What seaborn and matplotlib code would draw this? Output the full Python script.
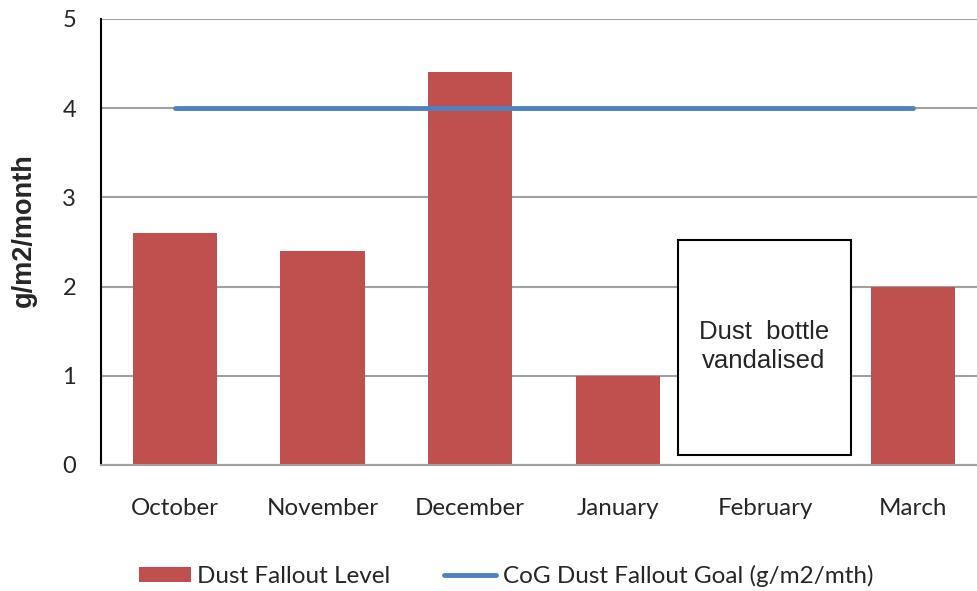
import numpy as np
import pandas as pd
import matplotlib
matplotlib.use('Agg')
from matplotlib import pyplot as plt
from matplotlib.patches import Rectangle, Patch
from matplotlib.lines import Line2D
import seaborn as sns

months = ['October', 'November', 'December', 'January', 'February', 'March']
dust_fallout = [2.6, 2.4, 4.4, 1.0, np.nan, 2.0]   # February bottle was vandalised
goal = [4, 4, 4, 4, 4, 4]
y_ticks = [0, 1, 2, 3, 4, 5]

bar_color = '#C0504D'
line_color = '#4F81BD'
grid_color = '#A0A0A0'

df = pd.DataFrame({'month': months, 'dust': dust_fallout, 'goal': goal})
df['pos'] = np.arange(len(df))

sns.set_style('white')
plt.rcParams['font.family'] = ['Lato', 'DejaVu Sans']

fig = plt.figure(figsize=(9.77, 5.91), dpi=100)
ax = fig.add_axes([0.1034, 0.2132, 0.9068, 0.7547])

sns.barplot(data=df, x='month', y='dust', color=bar_color, width=0.57,
            saturation=1, linewidth=0, ax=ax, zorder=2)
sns.lineplot(data=df, x='pos', y='goal', color=line_color, linewidth=3.5,
             ax=ax, zorder=3, solid_capstyle='round')

# gridlines
ax.set_ylim(0, 5)
ax.set_xlim(-0.5, len(months) - 0.5)
ax.set_yticks(y_ticks)
ax.yaxis.grid(True, color=grid_color, linewidth=1.5, zorder=0)
ax.set_axisbelow(True)

for s in ['top', 'right']:
    ax.spines[s].set_visible(False)
ax.spines['left'].set_color('black')
ax.spines['left'].set_linewidth(1.5)
ax.spines['bottom'].set_color(grid_color)
ax.spines['bottom'].set_linewidth(1.5)

ax.tick_params(axis='y', length=0, pad=18, labelsize=17)
ax.tick_params(axis='x', length=0, pad=24, labelsize=17.4)
ax.set_xlabel('')
ax.set_ylabel('g/m2/month', fontsize=19.5, fontweight='bold',
              family='Liberation Sans')
ax.yaxis.set_label_coords(-0.0722, 0.527)

# vandalised box for February
box = Rectangle((3.405, 0.11), 1.175, 2.41, facecolor='white',
                edgecolor='black', linewidth=1.5, zorder=4)
ax.add_patch(box)
ax.text(3.99, 1.33, 'Dust  bottle\nvandalised', ha='center', va='center',
        fontsize=18.5, family='Liberation Sans', zorder=5, linespacing=1.25)

handles = [Patch(facecolor=bar_color, edgecolor='none'),
           Line2D([0], [0], color=line_color, linewidth=3.5,
                  solid_capstyle='round')]
fig.legend(handles, ['Dust Fallout Level', 'CoG Dust Fallout Goal (g/m2/mth)'],
           loc='center', bbox_to_anchor=(0.518, 0.0254), ncol=2, frameon=False,
           fontsize=17.5, handlelength=2.15, handleheight=0.6, columnspacing=2.2,
           handletextpad=0.25, borderpad=0)

fig.savefig('out.png', dpi=100)
